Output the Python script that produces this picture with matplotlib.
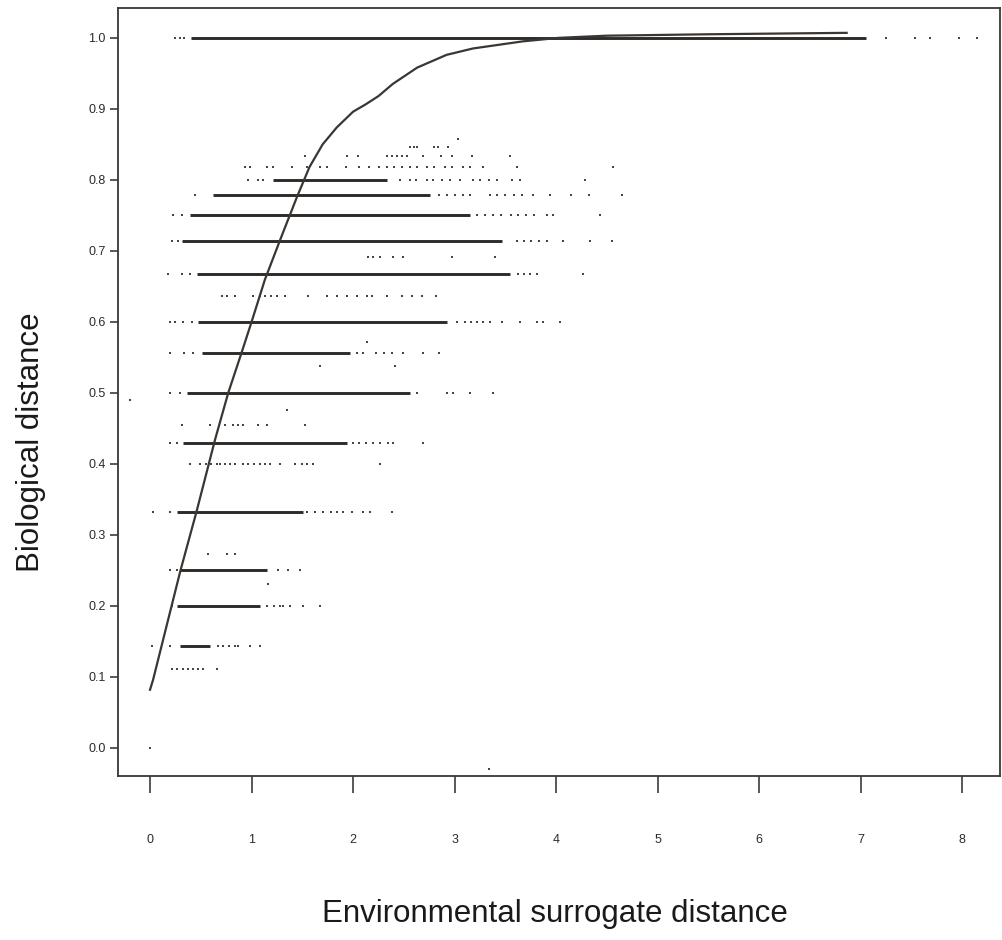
import matplotlib.pyplot as plt

plt.rcParams['font.family'] = ['Liberation Sans', 'DejaVu Sans']

# Dense runs of points along each biological distance level (start / end of run)
run_level = [1.0, 0.8, 0.778, 0.75, 0.714, 0.667, 0.6, 0.556, 0.5, 0.429, 0.333, 0.25, 0.2, 0.143]
run_start = [0.40, 1.21, 0.62, 0.39, 0.31, 0.46, 0.47, 0.51, 0.36, 0.32, 0.27, 0.30, 0.27, 0.30]
run_end = [7.05, 2.33, 2.76, 3.15, 3.47, 3.54, 2.92, 1.97, 2.56, 1.94, 1.51, 1.15, 1.08, 0.59]

# Scattered single points, one list per level
dots_1000 = [0.25, 0.30, 0.33, 7.25, 7.53, 7.68, 7.97, 8.14]
dots_0857 = [3.03]
dots_0846 = [2.56, 2.60, 2.63, 2.80, 2.84, 2.93]
dots_0833 = [1.53, 1.94, 2.05, 2.33, 2.38, 2.43, 2.48, 2.53, 2.69, 2.87, 2.97, 3.17, 3.54]
dots_0818 = [0.94, 0.98, 1.15, 1.21, 1.40, 1.55, 1.67, 1.74, 1.93, 2.06, 2.16, 2.25, 2.33, 2.40,
             2.48, 2.56, 2.63, 2.73, 2.80, 2.90, 2.97, 3.08, 3.15, 3.28, 3.61, 4.56]
dots_0800 = [0.96, 1.06, 1.11, 2.46, 2.56, 2.62, 2.73, 2.79, 2.88, 2.95, 3.05, 3.18, 3.25, 3.34,
             3.42, 3.56, 3.64, 4.28]
dots_0778 = [0.44, 2.85, 2.92, 3.00, 3.08, 3.15, 3.35, 3.42,
             3.50, 3.58, 3.66, 3.77, 3.94, 4.15, 4.32, 4.65]
dots_0750 = [0.23, 0.31, 3.22, 3.30, 3.38, 3.46, 3.55, 3.62, 3.70, 3.78, 3.91, 3.97, 4.43]
dots_0714 = [0.22, 0.28, 3.61, 3.68, 3.75, 3.83, 3.91, 4.07, 4.33, 4.55]
dots_0692 = [2.15, 2.20, 2.26, 2.39, 2.49, 2.97, 3.40]
dots_0667 = [0.18, 0.31, 0.39, 3.62, 3.68, 3.74, 3.81, 4.26]
dots_0636 = [0.71, 0.76, 0.84, 1.01, 1.08, 1.13, 1.19, 1.25, 1.33, 1.56, 1.74, 1.84, 1.94,
             2.04, 2.14, 2.19, 2.33, 2.48, 2.58, 2.68, 2.82]
dots_0600 = [0.20, 0.25, 0.32, 0.41, 3.02, 3.10, 3.16, 3.22, 3.28, 3.35, 3.47, 3.64, 3.81, 3.87, 4.04]
dots_0571 = [2.14]
dots_0556 = [0.20, 0.33, 0.42, 2.04, 2.10, 2.23, 2.30, 2.38, 2.49, 2.69, 2.85]
dots_0538 = [1.67, 2.41]
dots_0500 = [0.20, 0.30, 2.63, 2.92, 2.98, 3.15, 3.38]
dots_0476 = [1.35]
dots_0455 = [0.31, 0.59, 0.74, 0.82, 0.87, 0.92, 1.06, 1.15, 1.53]
dots_0429 = [0.20, 0.27, 2.00, 2.06, 2.13, 2.20, 2.26, 2.34, 2.39, 2.69]
dots_0400 = [0.39, 0.49, 0.55, 0.60, 0.66, 0.69, 0.74, 0.79, 0.84, 0.92, 0.96, 1.02, 1.08,
             1.13, 1.18, 1.28, 1.43, 1.50, 1.55, 1.60, 2.26]
dots_0333 = [0.03, 0.20, 1.55, 1.62, 1.70, 1.78, 1.84, 1.90, 1.99, 2.10, 2.17, 2.38]
dots_0273 = [0.34, 0.57, 0.76, 0.84]
dots_0250 = [0.20, 0.27, 1.26, 1.36, 1.48]
dots_0231 = [1.16]
dots_0200 = [0.22, 1.15, 1.22, 1.28, 1.31, 1.38, 1.51, 1.67]
dots_0143 = [0.02, 0.20, 0.67, 0.72, 0.78, 0.84, 0.87, 0.98, 1.08]
dots_0111 = [0.22, 0.27, 0.32, 0.37, 0.42, 0.47, 0.52, 0.66]
dots_0000 = [0.0]

dot_rows = [(1.0, dots_1000), (0.857, dots_0857), (0.846, dots_0846), (0.833, dots_0833),
            (0.818, dots_0818), (0.8, dots_0800), (0.778, dots_0778), (0.75, dots_0750),
            (0.714, dots_0714), (0.692, dots_0692), (0.667, dots_0667), (0.636, dots_0636),
            (0.6, dots_0600), (0.571, dots_0571), (0.556, dots_0556), (0.538, dots_0538),
            (0.5, dots_0500), (0.476, dots_0476), (0.455, dots_0455), (0.429, dots_0429),
            (0.4, dots_0400), (0.333, dots_0333), (0.273, dots_0273), (0.25, dots_0250),
            (0.231, dots_0231), (0.2, dots_0200), (0.143, dots_0143), (0.111, dots_0111),
            (0.0, dots_0000)]

# stray marks
stray_x = [-0.2, 3.34]
stray_y = [0.49, -0.03]

# fitted curve
curve_x = [0.0, 0.03, 0.30, 0.46, 0.64, 0.77, 0.90, 1.00, 1.13, 1.28, 1.45, 1.57, 1.70, 1.84,
           2.00, 2.12, 2.25, 2.39, 2.63, 2.92, 3.18, 3.67, 4.03, 4.50, 5.50, 6.86]
curve_y = [0.082, 0.096, 0.25, 0.334, 0.434, 0.50, 0.556, 0.60, 0.659, 0.715, 0.777, 0.818,
           0.850, 0.874, 0.896, 0.906, 0.918, 0.935, 0.958, 0.976, 0.985, 0.995, 1.0, 1.003,
           1.005, 1.007]

ink = '#2e2a27'
dot_ink = '#4a4541'

fig = plt.figure(figsize=(10.02, 9.40), dpi=100)
ax = fig.add_axes([0.1178, 0.1745, 0.8802, 0.817])

ax.hlines(run_level, run_start, run_end, colors=ink, linewidth=2.1)
for lev, xs in dot_rows:
    ax.scatter(xs, [lev] * len(xs), s=3, marker='s', color=dot_ink, linewidths=0)
ax.scatter(stray_x, stray_y, s=3, marker='s', color=dot_ink, linewidths=0)

ax.plot(curve_x, curve_y, color='#3a3633', linewidth=1.6)

ax.set_xlim(-0.315, 8.37)
ax.set_ylim(-0.0394, 1.042)

ax.set_xticks([0, 1, 2, 3, 4, 5, 6, 7, 8])
ax.set_yticks([0.0, 0.1, 0.2, 0.3, 0.4, 0.5, 0.6, 0.7, 0.8, 0.9, 1.0])
ax.set_yticklabels(['0.0', '0.1', '0.2', '0.3', '0.4', '0.5', '0.6', '0.7', '0.8', '0.9', '1.0'])
ax.tick_params(axis='x', length=12, width=1.1, pad=30, labelsize=9, colors=ink)
ax.tick_params(axis='y', length=6, width=1.1, pad=3, labelsize=9, colors=ink)

for sp in ax.spines.values():
    sp.set_linewidth(1.3)
    sp.set_color('#3a3633')

ax.set_xlabel('Environmental surrogate distance', fontsize=22.5, color='#1a1a1a')
ax.set_ylabel('Biological distance', fontsize=22.5, color='#1a1a1a')
ax.xaxis.set_label_coords(0.495, -0.16)
ax.yaxis.set_label_coords(-0.082, 0.435)

fig.savefig('out.png', dpi=100)
